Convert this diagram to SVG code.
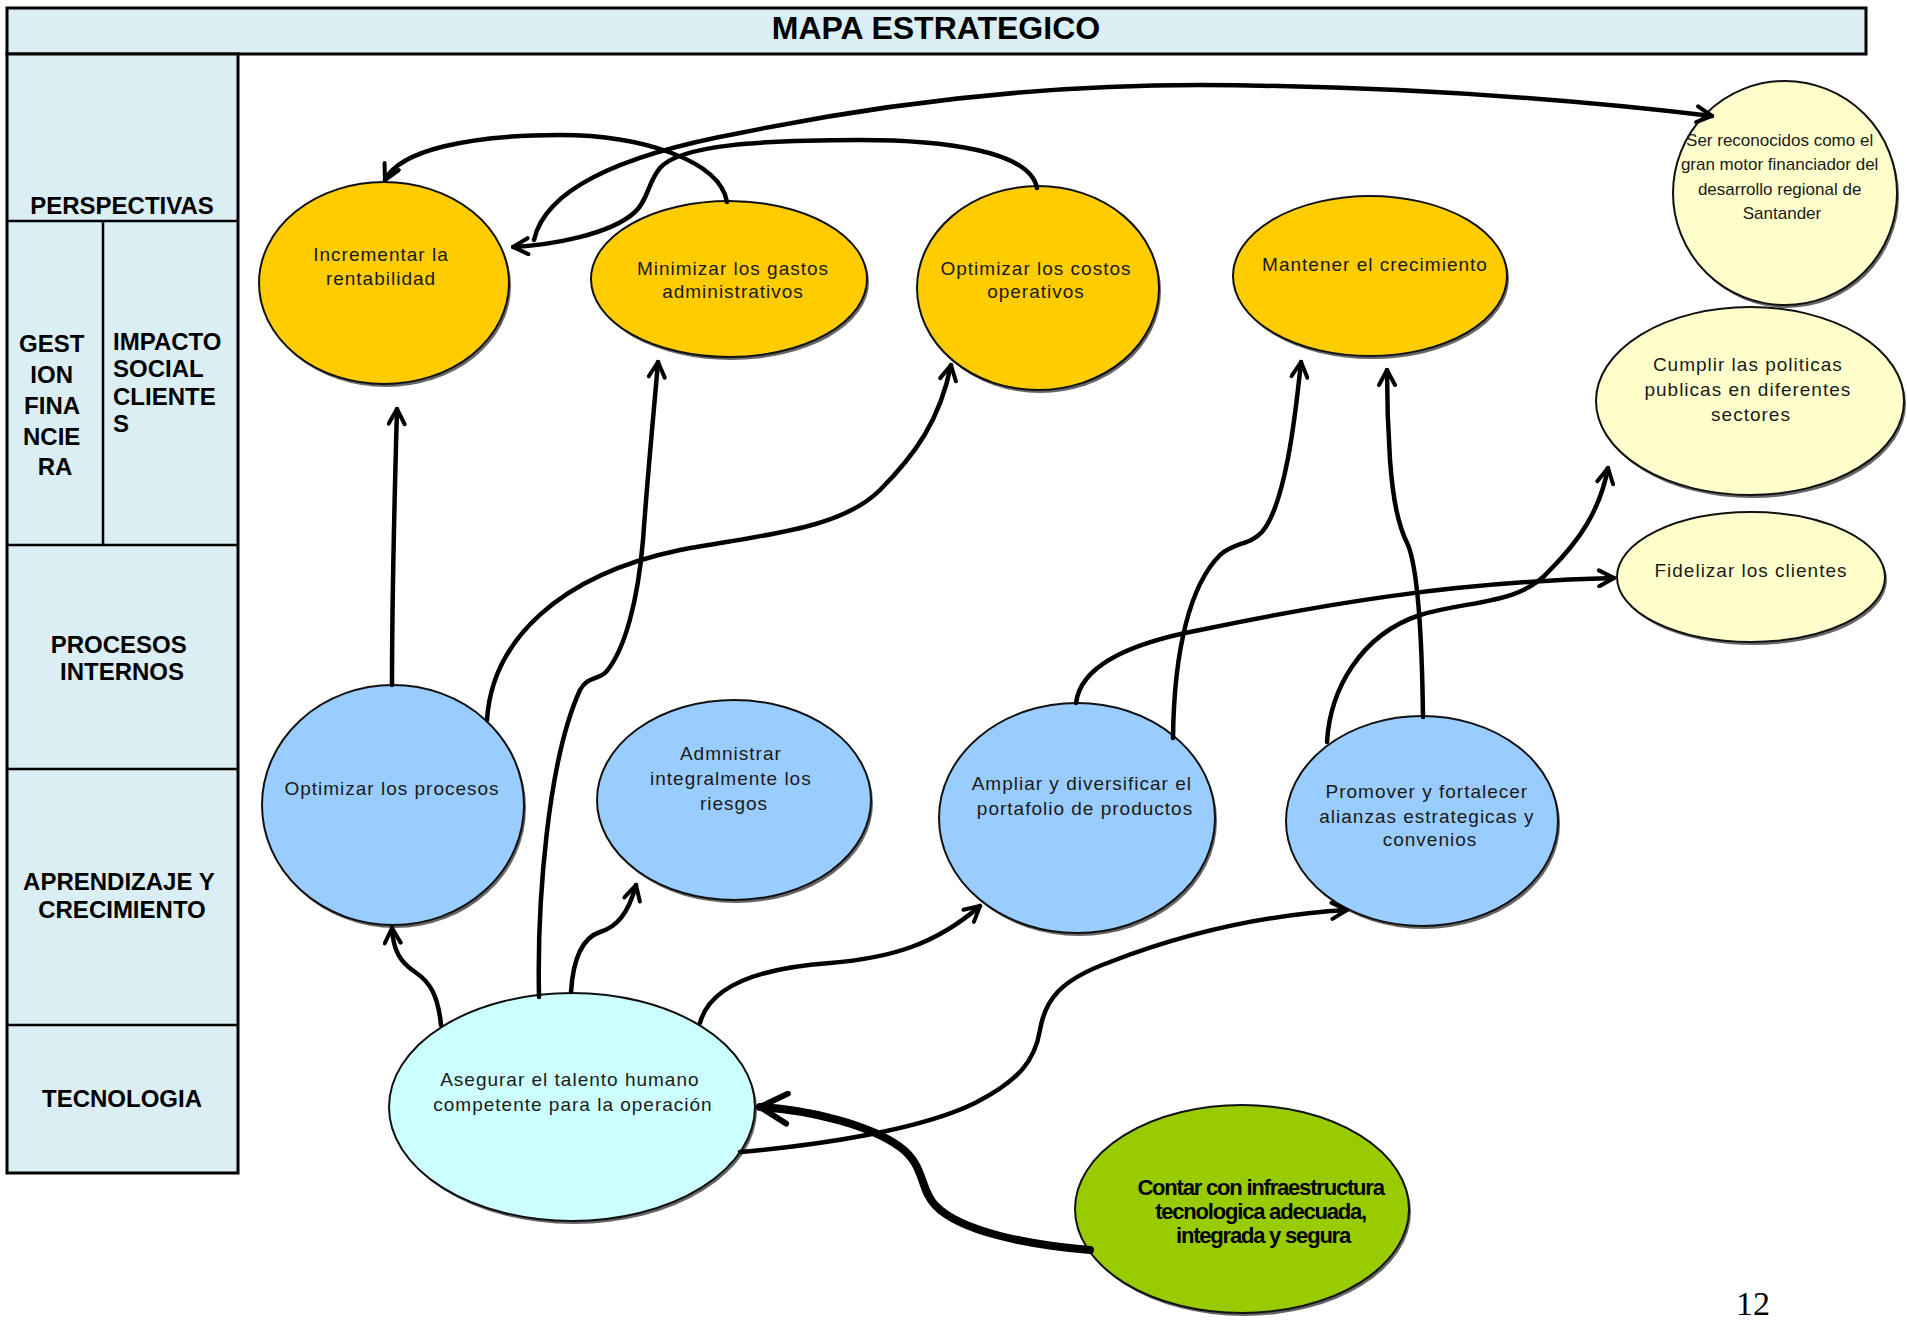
<svg xmlns="http://www.w3.org/2000/svg" width="1907" height="1325" viewBox="0 0 1907 1325">
  <style>
    .frame { fill: #DAEEF3; stroke: #000; stroke-width: 3; }
    .rule { stroke: #000; stroke-width: 2.5; fill: none; }
    .head { font-family: "Liberation Sans", Arial, sans-serif; font-weight: bold; font-size: 24px; fill: #000; }
    .title { font-family: "Liberation Sans", Arial, sans-serif; font-weight: bold; font-size: 32px; fill: #000; }
    .node { stroke: #111; stroke-width: 2; }
    .shadow { fill: #333; opacity: 0.75; }
    .t { font-family: "Liberation Sans", Arial, sans-serif; font-size: 19px; letter-spacing: 1px; fill: #1a1a1a; text-anchor: middle; }
    .ts { font-family: "Liberation Sans", Arial, sans-serif; font-size: 17px; fill: #1a1a1a; text-anchor: middle; }
    .tb { font-family: "Liberation Sans", Arial, sans-serif; font-size: 22px; font-weight: bold; letter-spacing: -1.2px; fill: #000; text-anchor: middle; }
    .gold { fill: #FFCC00; }
    .sky { fill: #99CCFF; }
    .cream { fill: #FFFFCC; }
    .aqua { fill: #CCFFFF; }
    .lime { fill: #99CC00; }
    .link { fill: none; stroke: #000; stroke-width: 4.5; stroke-linecap: round; marker-end: url(#arrow); }
    .link-plain { fill: none; stroke: #000; stroke-width: 4.5; stroke-linecap: round; }
    .link-thick { fill: none; stroke: #000; stroke-width: 8; stroke-linecap: round; marker-end: url(#arrowBig); }
  </style>
  <defs>
    <marker id="arrow" viewBox="0 0 20 20" refX="18" refY="10" markerWidth="20" markerHeight="20" markerUnits="userSpaceOnUse" orient="auto">
      <path d="M3,2 L18,10 L3,18" fill="none" stroke="#000" stroke-width="4" stroke-linecap="round" stroke-linejoin="round"/>
    </marker>
    <marker id="arrowBig" viewBox="0 0 36 36" refX="33" refY="18" markerWidth="36" markerHeight="36" markerUnits="userSpaceOnUse" orient="auto">
      <path d="M6,3 L33,18 L6,33" fill="none" stroke="#000" stroke-width="6" stroke-linecap="round" stroke-linejoin="round"/>
    </marker>
  </defs>

  <rect width="1907" height="1325" fill="#fff"/>

  <!-- title bar -->
  <g id="title">
    <rect class="frame" x="7" y="8" width="1859" height="46"/>
    <text class="title" x="936" y="39" text-anchor="middle">MAPA ESTRATEGICO</text>
  </g>

  <!-- perspective column -->
  <g id="perspectivas">
    <rect class="frame" x="7" y="54" width="231" height="1119"/>
    <line class="rule" x1="7" y1="221" x2="238" y2="221"/>
    <line class="rule" x1="103" y1="221" x2="103" y2="545"/>
    <line class="rule" x1="7" y1="545" x2="238" y2="545"/>
    <line class="rule" x1="7" y1="769" x2="238" y2="769"/>
    <line class="rule" x1="7" y1="1025" x2="238" y2="1025"/>
    <text class="head" x="122" y="214" text-anchor="middle">PERSPECTIVAS</text>
    <text class="head" text-anchor="middle">
      <tspan x="55" y="352">GEST</tspan>
      <tspan x="55" y="383">ION</tspan>
      <tspan x="55" y="414">FINA</tspan>
      <tspan x="55" y="445">NCIE</tspan>
      <tspan x="55" y="475">RA</tspan>
    </text>
    <text class="head">
      <tspan x="113" y="350">IMPACTO</tspan>
      <tspan x="113" y="377">SOCIAL</tspan>
      <tspan x="113" y="405">CLIENTE</tspan>
      <tspan x="113" y="432">S</tspan>
    </text>
    <text class="head" text-anchor="middle">
      <tspan x="122" y="653">PROCESOS</tspan>
      <tspan x="122" y="680">INTERNOS</tspan>
    </text>
    <text class="head" text-anchor="middle">
      <tspan x="122" y="890">APRENDIZAJE Y</tspan>
      <tspan x="122" y="918">CRECIMIENTO</tspan>
    </text>
    <text class="head" x="122" y="1107" text-anchor="middle">TECNOLOGIA</text>
  </g>

  <!-- objectives -->
  <g id="incrementar">
    <ellipse class="shadow" cx="386" cy="286" rx="125" ry="101"/>
    <ellipse class="node gold" cx="384" cy="283" rx="125" ry="101"/>
    <text class="t"><tspan x="381" y="261">Incrementar la</tspan><tspan x="381" y="285">rentabilidad</tspan></text>
  </g>
  <g id="minimizar">
    <ellipse class="shadow" cx="731" cy="282" rx="138" ry="78"/>
    <ellipse class="node gold" cx="729" cy="279" rx="138" ry="78"/>
    <text class="t"><tspan x="733" y="275">Minimizar los gastos</tspan><tspan x="733" y="298">administrativos</tspan></text>
  </g>
  <g id="optimizar-costos">
    <ellipse class="shadow" cx="1040" cy="291" rx="121" ry="102"/>
    <ellipse class="node gold" cx="1038" cy="288" rx="121" ry="102"/>
    <text class="t"><tspan x="1036" y="275">Optimizar los costos</tspan><tspan x="1036" y="298">operativos</tspan></text>
  </g>
  <g id="mantener">
    <ellipse class="shadow" cx="1372" cy="279" rx="137" ry="80"/>
    <ellipse class="node gold" cx="1370" cy="276" rx="137" ry="80"/>
    <text class="t" x="1375" y="271">Mantener el crecimiento</text>
  </g>
  <g id="reconocidos">
    <ellipse class="shadow" cx="1787" cy="196" rx="112" ry="112"/>
    <ellipse class="node cream" cx="1785" cy="193" rx="112" ry="112"/>
    <text class="ts">
      <tspan x="1782" y="146">Ser reconocidos como el</tspan>
      <tspan x="1782" y="170">gran motor financiador del</tspan>
      <tspan x="1782" y="195">desarrollo regional de</tspan>
      <tspan x="1782" y="219">Santander</tspan>
    </text>
  </g>
  <g id="cumplir">
    <ellipse class="shadow" cx="1752" cy="404" rx="154" ry="94"/>
    <ellipse class="node cream" cx="1750" cy="401" rx="154" ry="94"/>
    <text class="t">
      <tspan x="1751" y="371">Cumplir las politicas</tspan>
      <tspan x="1751" y="396">publicas en diferentes</tspan>
      <tspan x="1751" y="421">sectores</tspan>
    </text>
  </g>
  <g id="fidelizar">
    <ellipse class="shadow" cx="1753" cy="580" rx="134" ry="65"/>
    <ellipse class="node cream" cx="1751" cy="577" rx="134" ry="65"/>
    <text class="t" x="1751" y="577">Fidelizar los clientes</text>
  </g>
  <g id="optimizar-procesos">
    <ellipse class="shadow" cx="395" cy="808" rx="131" ry="120"/>
    <ellipse class="node sky" cx="393" cy="805" rx="131" ry="120"/>
    <text class="t" x="392" y="795">Optimizar los procesos</text>
  </g>
  <g id="riesgos">
    <ellipse class="shadow" cx="736" cy="803" rx="137" ry="100"/>
    <ellipse class="node sky" cx="734" cy="800" rx="137" ry="100"/>
    <text class="t">
      <tspan x="734" y="760">Admnistrar</tspan>
      <tspan x="734" y="785">integralmente los</tspan>
      <tspan x="734" y="810">riesgos</tspan>
    </text>
  </g>
  <g id="ampliar">
    <ellipse class="shadow" cx="1079" cy="821" rx="138" ry="115"/>
    <ellipse class="node sky" cx="1077" cy="818" rx="138" ry="115"/>
    <text class="t">
      <tspan x="1085" y="790">Ampliar y diversificar el</tspan>
      <tspan x="1085" y="815">portafolio de productos</tspan>
    </text>
  </g>
  <g id="promover">
    <ellipse class="shadow" cx="1424" cy="824" rx="136" ry="105"/>
    <ellipse class="node sky" cx="1422" cy="821" rx="136" ry="105"/>
    <text class="t">
      <tspan x="1430" y="798">Promover y fortalecer</tspan>
      <tspan x="1430" y="823">alianzas estrategicas y</tspan>
      <tspan x="1430" y="846">convenios</tspan>
    </text>
  </g>
  <g id="talento">
    <ellipse class="shadow" cx="574" cy="1110" rx="183" ry="114"/>
    <ellipse class="node aqua" cx="572" cy="1107" rx="183" ry="114"/>
    <text class="t">
      <tspan x="573" y="1086">Asegurar el talento humano</tspan>
      <tspan x="573" y="1111">competente para la operación</tspan>
    </text>
  </g>
  <g id="infraestructura">
    <ellipse class="shadow" cx="1244" cy="1212" rx="167" ry="104"/>
    <ellipse class="node lime" cx="1242" cy="1209" rx="167" ry="104"/>
    <text class="tb">
      <tspan x="1263" y="1195">Contar con infraestructura</tspan>
      <tspan x="1263" y="1219">tecnologica adecuada,</tspan>
      <tspan x="1263" y="1243">integrada y segura</tspan>
    </text>
  </g>

  <!-- cause-effect links -->
  <g id="connectors">
    <path class="link" d="M727,202 C720,160 640,135 560,135 C470,135 400,150 385,180"/>
    <path class="link" d="M1037,188 C1030,150 940,140 860,140 C760,140 680,145 660,168 C648,182 648,200 635,212 C610,235 550,245 513,247"/>
    <path class="link" d="M534,240 C545,190 620,155 740,133 C900,100 1050,85 1200,85 C1400,86 1560,98 1712,116"/>
    <path class="link" d="M392,685 C392,600 395,480 397,409"/>
    <path class="link" d="M539,997 C537,900 548,760 580,690 C588,676 598,680 606,672 C625,650 638,600 643,540 C648,470 654,410 658,362"/>
    <path class="link" d="M487,720 C492,640 560,575 680,550 C760,535 840,530 880,490 C915,455 940,420 951,365"/>
    <path class="link" d="M1173,738 C1174,650 1190,585 1220,555 C1235,542 1250,545 1262,532 C1285,505 1295,420 1301,362"/>
    <path class="link" d="M1423,717 C1422,640 1418,570 1408,545 C1398,525 1393,500 1390,460 C1388,430 1387,400 1387,370"/>
    <path class="link" d="M1076,703 C1080,670 1120,645 1200,630 C1320,605 1450,582 1614,578"/>
    <path class="link" d="M1327,742 C1330,690 1360,635 1420,615 C1470,600 1520,605 1550,570 C1580,540 1600,510 1608,468"/>
    <path class="link" d="M441,1025 C438,995 430,982 415,972 C400,962 393,950 392,928"/>
    <path class="link" d="M571,992 C573,960 582,938 600,932 C616,927 628,915 636,885"/>
    <path class="link" d="M700,1023 C710,985 760,968 830,963 C890,958 935,945 980,906"/>
    <path class="link" d="M740,1152 C820,1145 920,1130 975,1103 C1020,1080 1035,1060 1040,1030 C1045,1000 1060,980 1110,962 C1180,935 1260,915 1347,910"/>
    <path class="link-thick" d="M1090,1250 C1030,1245 960,1232 935,1205 C920,1190 925,1165 900,1147 C870,1125 810,1110 760,1107"/>
  </g>

  <text x="1753" y="1315" font-family="Liberation Serif, Times New Roman, serif" font-size="34" text-anchor="middle" fill="#000">12</text>
</svg>
